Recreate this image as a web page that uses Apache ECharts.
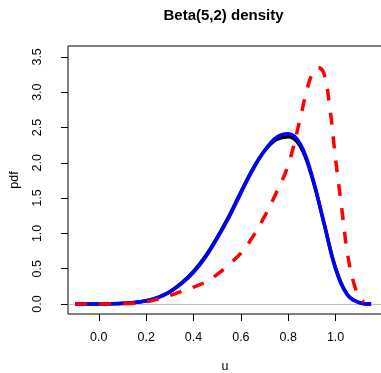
<!DOCTYPE html>
<html>
<head>
<meta charset="utf-8">
<script src="https://cdn.jsdelivr.net/npm/echarts@6/dist/echarts.min.js"></script>
<style>
html,body{margin:0;padding:0;background:#fff;}
#c{width:381px;height:373px;}
</style>
</head>
<body>
<div id="c"></div>
<script>
// ---- data ----
var titleText = "Beta(5,2) density";
var xLabel = "u";
var yLabel = "pdf";
var xTicks = [0, 0.2, 0.4, 0.6, 0.8, 1.0];
var yTicks = [0, 0.5, 1.0, 1.5, 2.0, 2.5, 3.0, 3.5];

var uSmooth = [-0.1,-0.05,0,0.05,0.1,0.15,0.2,0.25,0.3,0.35,0.4,0.45,0.5,0.55,0.6,0.65,0.7,0.75,0.8,0.85,0.9,0.95,1.0,1.05,1.1,1.15];
var blackPdf = [0,0,0.001,0.003,0.009,0.021,0.047,0.095,0.175,0.30,0.46,0.675,0.945,1.245,1.585,1.91,2.17,2.33,2.37,2.24,1.80,1.16,0.51,0.13,0.02,0];
var bluePdf  = [0,0,0.001,0.003,0.008,0.020,0.045,0.09,0.17,0.29,0.45,0.66,0.93,1.23,1.57,1.90,2.17,2.36,2.41,2.27,1.82,1.16,0.50,0.13,0.02,0];

var uRed = [-0.1,0,0.1,0.15,0.2,0.25,0.3,0.35,0.4,0.45,0.5,0.55,0.6,0.65,0.7,0.75,0.8,0.85,0.875,0.9,0.925,0.95,0.975,1.0,1.025,1.05,1.075,1.1,1.12];
var redPdf = [0,0.001,0.005,0.012,0.03,0.07,0.12,0.18,0.24,0.31,0.42,0.56,0.72,0.95,1.24,1.58,1.97,2.62,2.98,3.25,3.35,3.27,2.80,2.05,1.38,0.72,0.32,0.09,0.03];

function pairs(xs, ys){ return xs.map(function(x,i){ return [x, ys[i]]; }); }

var FONT = "'Liberation Sans', Arial, Helvetica, sans-serif";
var chart = echarts.init(document.getElementById('c'), null, {renderer:'canvas'});
chart.setOption({
  animation: false,
  backgroundColor: '#ffffff',
  title: {
    text: titleText, left: 223.5, top: 8, textAlign: 'center', padding: 0,
    textStyle: {fontFamily: FONT, fontSize: 15, fontWeight: 'bold', color: '#000'}
  },
  grid: {
    left: 68, top: 46, right: -1, bottom: 59, containLabel: false, outerBoundsMode: 'none',
    show: true, borderColor: '#000', borderWidth: 1, backgroundColor: 'transparent'
  },
  xAxis: {
    type: 'value', min: -0.13, max: 1.196,
    name: xLabel, nameLocation: 'middle', nameGap: 46,
    nameTextStyle: {fontFamily: FONT, fontSize: 12.5, color: '#000'},
    axisLine: {show: false, onZero: false},
    splitLine: {show: false},
    axisTick: {show: true, length: 7, lineStyle: {color: '#000', width: 1}, customValues: xTicks},
    axisLabel: {show: true, margin: 17, fontFamily: FONT, fontSize: 12.5, color: '#000',
      customValues: xTicks, formatter: function(v){ return v.toFixed(1); }}
  },
  yAxis: {
    type: 'value', min: -0.1416, max: 3.654,
    name: yLabel, nameLocation: 'middle', nameGap: 47, nameRotate: 90,
    nameTextStyle: {fontFamily: FONT, fontSize: 12.5, color: '#000'},
    axisLine: {show: false, onZero: false},
    splitLine: {show: false},
    axisTick: {show: true, length: 7, lineStyle: {color: '#000', width: 1}, customValues: yTicks},
    axisLabel: {show: true, margin: 24, rotate: 90, fontFamily: FONT, fontSize: 12.5, color: '#000',
      customValues: yTicks, formatter: function(v){ return v.toFixed(1); }}
  },
  series: [
    {
      type: 'line', data: pairs(uSmooth, blackPdf), smooth: 0.4, symbol: 'none', z: 2,
      lineStyle: {color: '#000000', width: 3.5},
      markLine: {silent: true, symbol: 'none', label: {show: false}, z: 1,
        lineStyle: {color: '#bebebe', width: 1, type: 'solid'}, data: [{yAxis: 0}]}
    },
    {
      type: 'line', data: pairs(uSmooth, bluePdf), smooth: 0.4, symbol: 'none', z: 3,
      lineStyle: {color: '#0000ff', width: 3.5}
    },
    {
      type: 'line', data: pairs(uRed, redPdf), smooth: 0.4, symbol: 'none', z: 4,
      lineStyle: {color: '#ff0000', width: 3.5, type: [12, 12], cap: 'butt'}
    }
  ]
});
</script>
</body>
</html>
